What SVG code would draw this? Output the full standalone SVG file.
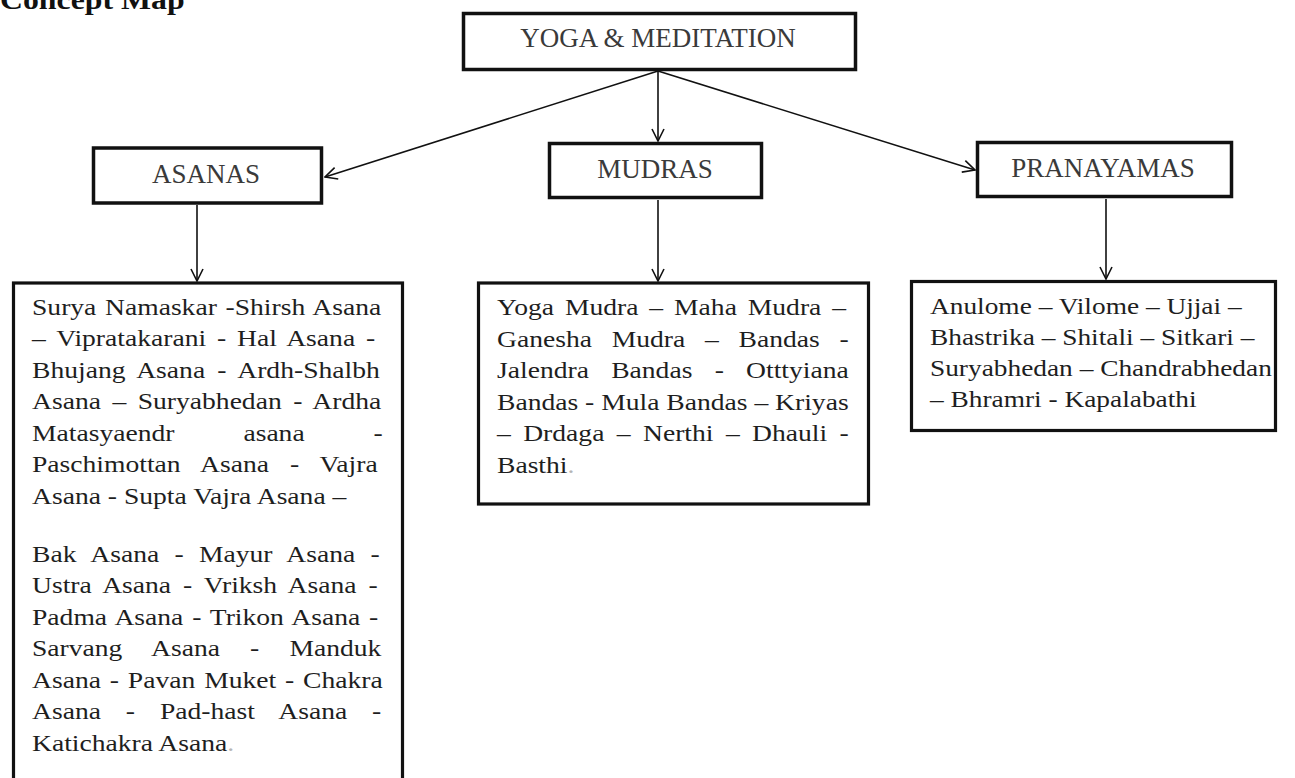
<svg xmlns="http://www.w3.org/2000/svg" width="1295" height="778" viewBox="0 0 1295 778">
  <defs>
    <marker id="arrow" viewBox="0 0 14 14" refX="13" refY="7" markerWidth="14" markerHeight="14" markerUnits="userSpaceOnUse" orient="auto">
      <path d="M1,1 L13,7 L1,13" fill="none" stroke="#111" stroke-width="1.6"/>
    </marker>
    <style>
      .box { fill: #fff; stroke: #111; stroke-width: 3.5; }
      .list { fill: #fff; stroke: #111; stroke-width: 3.2; }
      .head { font-family: "Liberation Serif", "Times New Roman", serif; font-size: 27px; fill: #3a3a3a; text-anchor: middle; }
      .body { font-family: "Liberation Serif", "Times New Roman", serif; font-size: 23px; fill: #1e1e1e; }
      .title { font-family: "Liberation Serif", "Times New Roman", serif; font-size: 26.5px; font-weight: bold; fill: #111; }
      .edge { fill: none; stroke: #111; stroke-width: 1.6; marker-end: url(#arrow); }
      .faint { fill: #b5b5b5; }
    </style>
  </defs>
  <rect width="1295" height="778" fill="#fff"/>

  <!-- page heading, clipped by the top edge -->
  <text class="title" transform="scale(1.2 1)" x="0" y="9">Concept Map</text>

  <!-- connectors -->
  <g id="connectors">
    <line class="edge" x1="658" y1="71" x2="658" y2="141"/>
    <line class="edge" x1="658" y1="71" x2="325" y2="177"/>
    <line class="edge" x1="658" y1="71" x2="975" y2="170"/>
    <line class="edge" x1="197" y1="205" x2="197" y2="281"/>
    <line class="edge" x1="658" y1="200" x2="658" y2="281"/>
    <line class="edge" x1="1106" y1="199" x2="1106" y2="279"/>
  </g>

  <g id="yoga-meditation">
    <rect class="box" x="463.5" y="13.5" width="392" height="56"/>
    <text class="head" x="658" y="47">YOGA &amp; MEDITATION</text>
  </g>

  <g id="asanas">
    <rect class="box" x="93.5" y="148" width="228" height="55"/>
    <text class="head" x="206" y="183">ASANAS</text>
  </g>

  <g id="mudras">
    <rect class="box" x="549.5" y="143.5" width="212" height="54"/>
    <text class="head" x="655" y="178">MUDRAS</text>
  </g>

  <g id="pranayamas">
    <rect class="box" x="977.5" y="142.5" width="254" height="54"/>
    <text class="head" x="1103" y="177">PRANAYAMAS</text>
  </g>

  <!-- list of asanas: justified serif text, widened horizontally -->
  <g id="asanas-list">
    <rect class="list" x="13.5" y="283" width="389" height="510"/>
    <g class="body" transform="scale(1.2 1)">
      <text x="26.67" y="315" word-spacing="1.47">Surya Namaskar -Shirsh Asana</text>
      <text x="26.67" y="346.5" word-spacing="3.3">– Vipratakarani - Hal Asana -</text>
      <text x="26.67" y="378" word-spacing="4.45">Bhujang Asana - Ardh-Shalbh</text>
      <text x="26.67" y="409.5" word-spacing="3.82">Asana – Suryabhedan - Ardha</text>
      <text x="26.67" y="441" word-spacing="51.7">Matasyaendr asana -</text>
      <text x="26.67" y="472.5" word-spacing="11.69">Paschimottan Asana - Vajra</text>
      <text x="26.67" y="504">Asana - Supta Vajra Asana –</text>
      <text x="26.67" y="562" word-spacing="7.02">Bak Asana - Mayur Asana -</text>
      <text x="26.67" y="593.5" word-spacing="4.21">Ustra Asana - Vriksh Asana -</text>
      <text x="26.67" y="625" word-spacing="1.65">Padma Asana - Trikon Asana -</text>
      <text x="26.67" y="656.5" word-spacing="19.36">Sarvang Asana - Manduk</text>
      <text x="26.67" y="688" word-spacing="1.65">Asana - Pavan Muket - Chakra</text>
      <text x="26.67" y="719.5" word-spacing="15">Asana - Pad-hast Asana -</text>
      <text x="26.67" y="751">Katichakra Asana<tspan class="faint">.</tspan></text>
    </g>
  </g>

  <g id="mudras-list">
    <rect class="list" x="478.5" y="283" width="390" height="221"/>
    <g class="body" transform="scale(1.2 1)">
      <text x="414.17" y="315.5" word-spacing="3.35">Yoga Mudra – Maha Mudra –</text>
      <text x="414.17" y="347" word-spacing="10.73">Ganesha Mudra – Bandas -</text>
      <text x="414.17" y="378.5" word-spacing="12.82">Jalendra Bandas - Otttyiana</text>
      <text x="414.17" y="410">Bandas - Mula Bandas – Kriyas</text>
      <text x="414.17" y="441.5" word-spacing="4.6">– Drdaga – Nerthi – Dhauli -</text>
      <text x="414.17" y="473">Basthi<tspan class="faint">.</tspan></text>
    </g>
  </g>

  <g id="pranayamas-list">
    <rect class="list" x="911.5" y="281.5" width="364" height="149"/>
    <g class="body" transform="scale(1.19 1)">
      <text x="781.5" y="314.5">Anulome – Vilome – Ujjai –</text>
      <text x="781.5" y="345.5">Bhastrika – Shitali – Sitkari –</text>
      <text x="781.5" y="376.5">Suryabhedan – Chandrabhedan</text>
      <text x="781.5" y="407.5">– Bhramri - Kapalabathi</text>
    </g>
  </g>
</svg>
